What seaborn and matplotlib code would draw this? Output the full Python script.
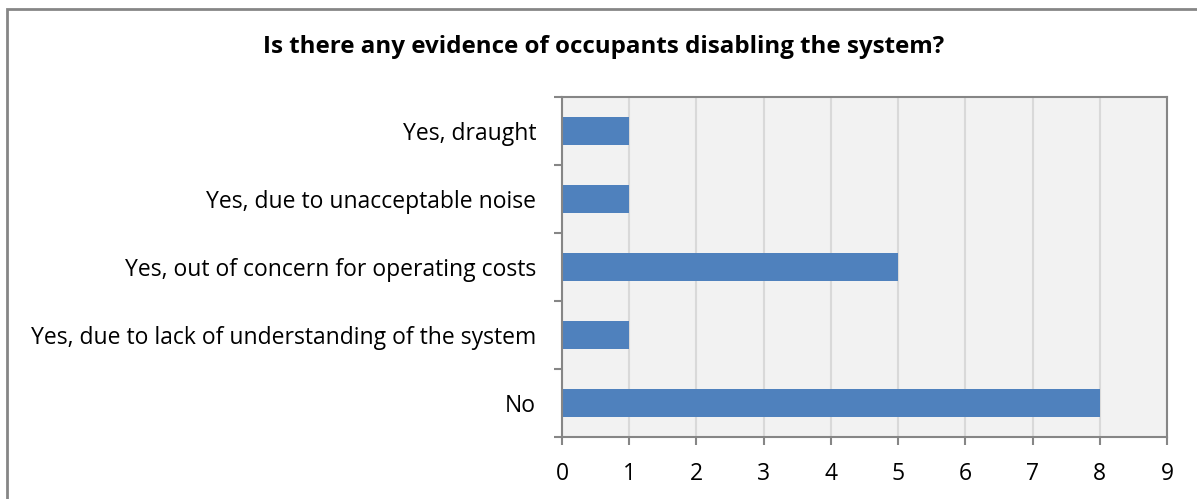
import pandas as pd
import matplotlib.pyplot as plt
import seaborn as sns
from matplotlib.patches import Rectangle

categories = ['Yes, draught',
              'Yes, due to unacceptable noise',
              'Yes, out of concern for operating costs',
              'Yes, due to lack of understanding of the system',
              'No']
counts = [1, 1, 5, 1, 8]
xticks = list(range(0, 10))

df = pd.DataFrame({'answer': categories, 'count': counts})

sns.set_style('white')
plt.rcParams['font.family'] = ['Open Sans', 'DejaVu Sans']
plt.rcParams['text.color'] = 'black'

fig = plt.figure(figsize=(11.97, 4.99), dpi=100)
ax = fig.add_axes([0.4695, 0.1242, 0.5055, 0.6814])
ax.set_facecolor('#f2f2f2')

sns.barplot(data=df, y='answer', x='count', orient='h', color='#4f81bd',
            saturation=1, width=0.4, linewidth=0, ax=ax, order=categories)

ax.set_xlim(0, 9)
ax.set_xticks(xticks)
ax.xaxis.grid(True, color='#d9d9d9', linewidth=1.5)
ax.set_axisbelow(True)
ax.set_xlabel('')
ax.set_ylabel('')
ax.set_ylim(len(categories) - 0.5, -0.5)

for s in ax.spines.values():
    s.set_color('#868686')
    s.set_linewidth(1.5)

ax.tick_params(axis='x', direction='out', length=6, width=1.5, color='#868686',
               labelcolor='black', labelsize=16.5, pad=12, bottom=True)
ax.tick_params(axis='y', which='major', length=0, labelsize=16.5, pad=18.7,
               labelcolor='black')
ax.set_yticks([i - 0.5 for i in range(len(categories) + 1)], minor=True)
ax.tick_params(axis='y', which='minor', direction='out', length=6, width=1.5,
               color='#868686', left=True)

fig.suptitle('Is there any evidence of occupants disabling the system?',
             x=0.5046, y=0.93, fontsize=17.4, fontweight='bold', color='black')

fig.patches.append(Rectangle((7 / 1197, -0.1), 1.2, 1.1 - 9 / 499, transform=fig.transFigure,
                             fill=False, edgecolor='#868686', linewidth=2))

fig.savefig('out.png', dpi=100)
